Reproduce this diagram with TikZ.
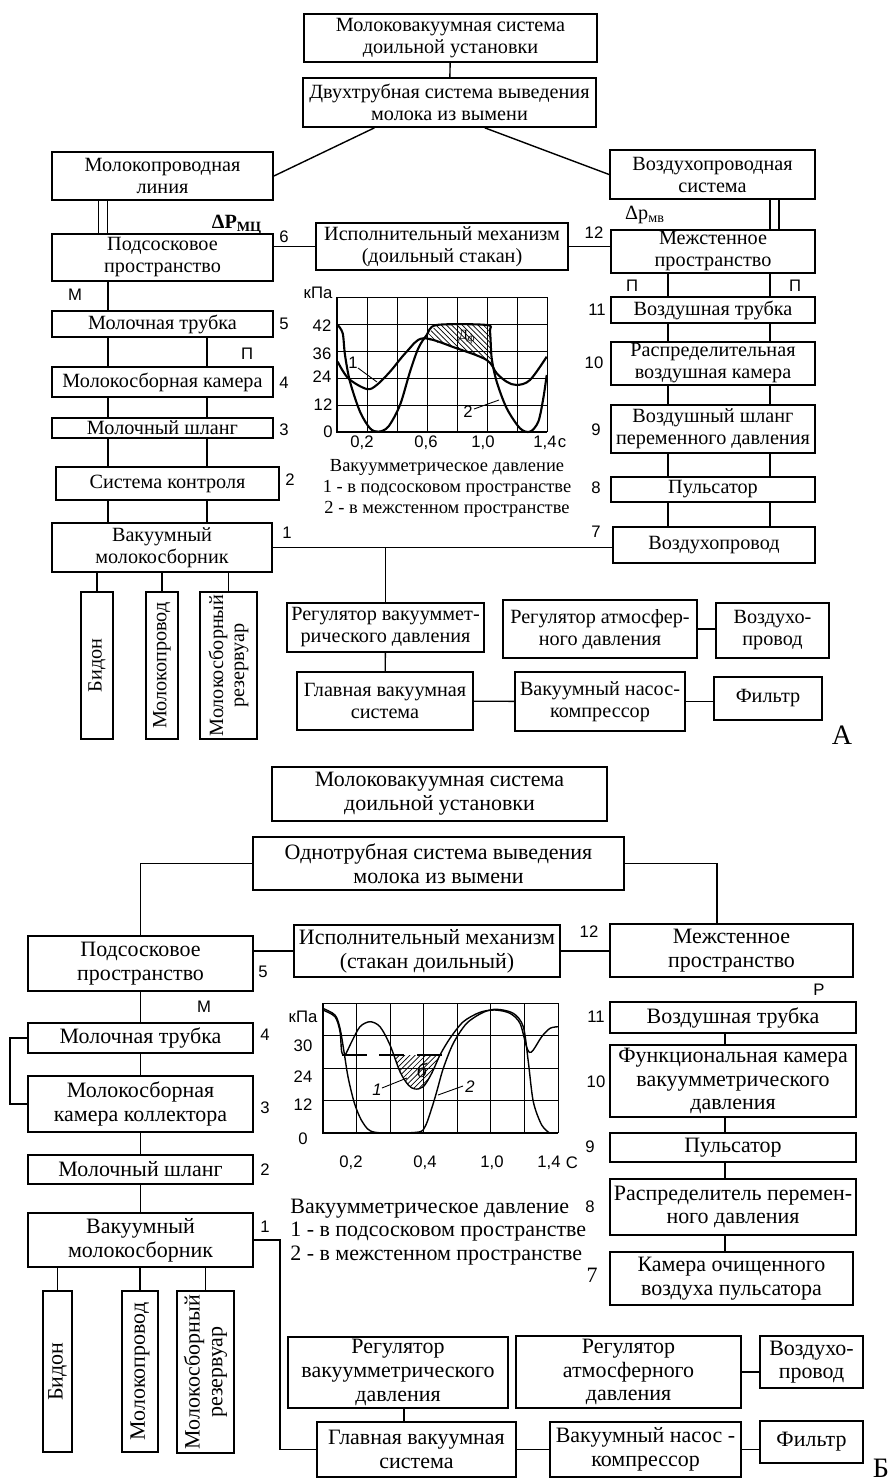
\documentclass[tikz,border=0pt]{standalone}
\usepackage{fontspec}
\setmainfont{Liberation Serif}
\setsansfont{Liberation Sans}
\usetikzlibrary{calc,patterns}

\newcommand{\boxfont}{\fontsize{11.5}{12.5}\selectfont}
\newcommand{\boxfontB}{\fontsize{12.5}{13.5}\selectfont}
\newcommand{\capfont}{\fontsize{10.5}{12}\selectfont}
\newcommand{\labfont}{\sffamily\fontsize{9.5}{10}\selectfont}

\tikzset{
  blk/.style={draw, line width=1pt, align=center, inner sep=1pt, font=\boxfont},
  blkB/.style={blk, font=\boxfontB},
  sz/.style n args={2}{minimum width=#1*0.02cm, minimum height=#2*0.02cm},
  vblk/.style={blk, rotate=90, font=\fontsize{11.5}{12}\selectfont},
  vblkB/.style={blk, rotate=90, font=\fontsize{12.5}{13}\selectfont},
  num/.style={inner sep=0pt, font=\labfont},
  ln/.style={line width=0.8pt},
  dbl/.style={line width=0.9pt, double, double distance=0.15cm},
  grd/.style={line width=0.5pt},
  axs/.style={line width=1.2pt},
  crv/.style={line width=1.2pt},
}

\begin{document}
\begin{tikzpicture}[x=0.02cm, y=-0.02cm]
	\useasboundingbox (0,0) rectangle (892,1481);

	% ---------- A ----------
	\node[blk, sz={293}{48}] (topA) at (450.5,38) {Молоковакуумная система\\доильной установки};
	\node[blk, sz={293}{49}] (dvuhA) at (449.5,102.5) {Двухтрубная система выведения\\молока из вымени};
	\node[blk, sz={221}{48}] (mlinA) at (162.5,176) {Молокопроводная\\линия};
	\node[blk, sz={205}{49}] (vsysA) at (712.5,174.5) {Воздухопроводная\\система};
	\node[blk, sz={221}{47}] (podsA) at (162.5,257.5) {Подсосковое\\пространство};
	\node[blk, sz={252}{47}] (ispA) at (442,246.5) {Исполнительный механизм\\(доильный стакан)};
	\node[blk, sz={204}{41}] (mezhA) at (713,251.5) {Межстенное\\пространство};
	\node[blk, sz={221}{26}] (mtrA) at (162.5,324) {Молочная трубка};
	\node[blk, sz={221}{30}] (mkamA) at (162.5,382) {Молокосборная камера};
	\node[blk, sz={221}{20}] (mshlA) at (162.5,428) {Молочный шланг};
	\node[blk, sz={223}{33}] (syskA) at (167.5,483.5) {Система контроля};
	\node[blk, sz={220}{49}] (vmolA) at (162,547.5) {Вакуумный\\молокосборник};
	\node[blk, sz={204}{26}] (vtrA) at (713,310) {Воздушная трубка};
	\node[blk, sz={204}{43}] (rvkA) at (713,363.5) {Распределительная\\воздушная камера};
	\node[blk, sz={204}{48}] (vshlA) at (713,429) {Воздушный шланг\\переменного давления};
	\node[blk, sz={204}{25}] (pulsA) at (713,489.5) {Пульсатор};
	\node[blk, sz={202}{36}] (vprA) at (714,545) {Воздухопровод};
	\node[blk, sz={197}{49}] (regvA) at (385.5,627.5) {Регулятор вакууммет-\\рического давления};
	\node[blk, sz={194}{58}] (regaA) at (600,629) {Регулятор атмосфер-\\ного давления};
	\node[blk, sz={113}{55}] (vpr2A) at (772.5,630.5) {Воздухо-\\провод};
	\node[blk, sz={176}{58}] (glavA) at (385,701) {Главная вакуумная\\система};
	\node[blk, sz={170}{59}] (nasA) at (600,701.5) {Вакуумный насос-\\компрессор};
	\node[blk, sz={108}{43}] (filA) at (768,698.5) {Фильтр};
	\node[vblk, sz={147}{32}] (bidA) at (97,665.5) {Бидон};
	\node[vblk, sz={147}{32}] (mprA) at (162,665.5) {Молокопровод};
	\node[vblk, sz={147}{57}] (mrezA) at (228.5,665.5) {Молокосборный\\резервуар};

	\coordinate (xa) at (108,0);
	\coordinate (xb) at (207,0);
	\coordinate (xc) at (668,0);
	\coordinate (xd) at (770,0);
	\coordinate (xl) at (103,0);
	\coordinate (xr) at (774.5,0);

	\draw[ln] (topA) -- (dvuhA);
	\draw[ln] ($(dvuhA.south west)!0.245!(dvuhA.south east)$) -- (mlinA.east);
	\draw[ln] ($(dvuhA.south west)!0.62!(dvuhA.south east)$) -- (vsysA.west);
	\draw[dbl] (xl |- mlinA.south) -- (xl |- podsA.north);
	\draw[dbl] (xr |- vsysA.south) -- (xr |- mezhA.north);
	\draw[ln] (ispA.west -| podsA.east) -- (ispA.west);
	\draw[ln] (ispA.east) -- (ispA.east -| mezhA.west);
	\draw[ln] (xa |- podsA.south) -- (xa |- mtrA.north);
	\draw[ln] (xa |- mtrA.south) -- (xa |- mkamA.north);
	\draw[ln] (xb |- mtrA.south) -- (xb |- mkamA.north);
	\draw[ln] (xa |- mkamA.south) -- (xa |- mshlA.north);
	\draw[ln] (xb |- mkamA.south) -- (xb |- mshlA.north);
	\draw[ln] (xa |- mshlA.south) -- (xa |- syskA.north);
	\draw[ln] (xb |- mshlA.south) -- (xb |- syskA.north);
	\draw[ln] (xa |- syskA.south) -- (xa |- vmolA.north);
	\draw[ln] (xb |- syskA.south) -- (xb |- vmolA.north);
	\draw[ln] (xc |- mezhA.south) -- (xc |- vtrA.north);
	\draw[ln] (xd |- mezhA.south) -- (xd |- vtrA.north);
	\draw[ln] (xc |- vtrA.south) -- (xc |- rvkA.north);
	\draw[ln] (xd |- vtrA.south) -- (xd |- rvkA.north);
	\draw[ln] (xc |- rvkA.south) -- (xc |- vshlA.north);
	\draw[ln] (xd |- rvkA.south) -- (xd |- vshlA.north);
	\draw[ln] (xc |- vshlA.south) -- (xc |- pulsA.north);
	\draw[ln] (xd |- vshlA.south) -- (xd |- pulsA.north);
	\draw[ln] (xc |- pulsA.south) -- (xc |- vprA.north);
	\draw[ln] (xd |- pulsA.south) -- (xd |- vprA.north);
	\draw[ln] (vmolA.east) -- (vmolA.east -| vprA.west);
	\coordinate (jA) at (vmolA.east -| regvA.north);
	\draw[ln] (jA) -- (regvA.north);
	\draw[ln] (regvA) -- (glavA);
	\draw[ln] (glavA) -- (nasA);
	\draw[ln] (nasA.east) -- (nasA.east -| filA.west);
	\draw[ln] (regaA.east) -- (regaA.east -| vpr2A.west);
	\draw[ln] (bidA.east |- vmolA.south) -- (bidA.east);
	\draw[ln] (mprA.east |- vmolA.south) -- (mprA.east);
	\draw[ln] (mrezA.east |- vmolA.south) -- (mrezA.east);

	\node[inner sep=0pt, font=\boxfont] (dpA) at (237,225) {\textbf{ΔP}\textsubscript{\textbf{МЦ}}};
	\node[inner sep=0pt, font=\boxfont] (dpB) at (645,215) {Δp\textsubscript{мв}};
	\node[num] (n6) at (284,237) {6};
	\node[num] (n12) at (594,233) {12};
	\node[num] (n5) at (284,324) {5};
	\node[num] (n4) at (284,383) {4};
	\node[num] (n3) at (284,430) {3};
	\node[num] (n2) at (290,480) {2};
	\node[num] (n1) at (287,533) {1};
	\node[num] (n7) at (596,532) {7};
	\node[num] (n8) at (596,488) {8};
	\node[num] (n9) at (596,430) {9};
	\node[num] (n10) at (594,363) {10};
	\node[num] (n11) at (597,310) {11};
	\node[num] (mA) at (75,295) {М};
	\node[num] (pA) at (247,354) {П};
	\node[num] (pB) at (632,286) {П};
	\node[num] (pC) at (795,286) {П};
	\node[inner sep=0pt, font=\fontsize{16}{16}\selectfont] (labA) at (842,735) {А};

	% chart A
	\foreach \gx in {0,...,7} \draw[grd] (337+\gx*30,297) -- (337+\gx*30,432);
	\foreach \gy in {0,...,4} \draw[grd] (337,297+\gy*27) -- (547,297+\gy*27);
	\fill[pattern=north west lines] (423.3,338.3) -- (426.7,335) -- (436.7,325) -- (486.7,325) -- (490,331.7) -- (491.7,358.3) -- (486.7,360) -- (456.7,348.3) -- cycle;
	\draw[axs] (337,297) -- (337,432) -- (547,432);
	\draw[crv] plot[smooth, tension=0.55] coordinates {(337.7,361.7) (348.3,378.3) (366.7,389) (376.7,385) (390,371.7) (406.7,351.7) (423.3,338.3) (456.7,348.3) (486.7,360) (496.7,373.3) (506.7,381.7) (516.7,385) (530,380) (546.7,356.7)};
	\draw[crv] plot[smooth, tension=0.5] coordinates {(337.7,325) (342.7,333.3) (345,355) (350,381.7) (360,411.7) (370,428.3) (378.3,431.7) (388.3,426.7) (400,405) (410,371.7) (418.3,348.3) (426.7,335) (436.7,325) (486.7,325) (490,331.7) (491.7,358.3) (496.7,381.7) (506.7,408.3) (520,428.3) (530,431.7) (538.3,421.7) (543.3,398.3) (546.7,375)};
	\node[inner sep=0pt, font=\fontsize{8}{8}\selectfont] (dfA) at (467,337) {Д\textsubscript{ф}};
	\node[num] (c1A) at (353,363) {1};
	\draw[grd] (358,368) -- (377,382);
	\node[num] (c2A) at (468,412) {2};
	\draw[grd] (474,409) -- (499,400);
	\node[num] (kpaA) at (318,293) {кПа};
	\node[num] (y42A) at (322,326) {42};
	\node[num] (y36A) at (322,354) {36};
	\node[num] (y24A) at (322,377) {24};
	\node[num] (y12A) at (323,405) {12};
	\node[num] (y0A) at (328,432) {0};
	\node[num] (x02A) at (362,443) {0,2};
	\node[num] (x06A) at (426,443) {0,6};
	\node[num] (x10A) at (483,443) {1,0};
	\node[num] (x14A) at (545,443) {1,4};
	\node[num] (xsA) at (562,443) {с};
	\node[inner sep=0pt, align=center, font=\capfont] (capA) at (447,488) {Вакуумметрическое давление\\1 - в подсосковом пространстве\\2 - в межстенном пространстве};

	% ---------- Б ----------
	\node[blkB, sz={335}{54}] (topB) at (439.5,794) {Молоковакуумная система\\доильной установки};
	\node[blkB, sz={371}{53}] (odnB) at (438.5,863.5) {Однотрубная система выведения\\молока из вымени};
	\node[blkB, sz={225}{55}] (podsB) at (140.5,963.5) {Подсосковое\\пространство};
	\node[blkB, sz={266}{52}] (ispB) at (427,951) {Исполнительный механизм\\(стакан доильный)};
	\node[blkB, sz={243}{53}] (mezhB) at (731.5,950.5) {Межстенное\\пространство};
	\node[blkB, sz={225}{30}] (mtrB) at (140.5,1038) {Молочная трубка};
	\node[blkB, sz={225}{56}] (mkamB) at (140.5,1104) {Молокосборная\\камера коллектора};
	\node[blkB, sz={225}{29}] (mshlB) at (140.5,1169.5) {Молочный шланг};
	\node[blkB, sz={225}{54}] (vmolB) at (140.5,1240) {Вакуумный\\молокосборник};
	\node[vblkB, sz={161}{29}] (bidB) at (57.5,1371.5) {Бидон};
	\node[vblkB, sz={161}{36}] (mprB) at (140,1371.5) {Молокопровод};
	\node[vblkB, sz={162}{57}] (mrezB) at (205.5,1372) {Молокосборный\\резервуар};
	\node[blkB, sz={246}{31}] (vtrB) at (733,1017.5) {Воздушная трубка};
	\node[blkB, sz={246}{72}] (fkamB) at (733,1081) {Функциональная камера\\вакуумметрического\\давления};
	\node[blkB, sz={246}{29}] (pulsB) at (733,1147.5) {Пульсатор};
	\node[blkB, sz={246}{56}] (raspB) at (733,1207) {Распределитель перемен-\\ного давления};
	\node[blkB, sz={243}{53}] (kamB) at (731.5,1278.5) {Камера очищенного\\воздуха пульсатора};
	\node[blkB, sz={220}{71}] (regvB) at (398,1372.5) {Регулятор\\вакуумметрического\\давления};
	\node[blkB, sz={225}{72}] (regaB) at (628.5,1372) {Регулятор\\атмосферного\\давления};
	\node[blkB, sz={103}{52}] (vpr2B) at (811.5,1362) {Воздухо-\\провод};
	\node[blkB, sz={199}{55}] (glavB) at (416.5,1449.5) {Главная вакуумная\\система};
	\node[blkB, sz={191}{55}] (nasB) at (645.5,1449.5) {Вакуумный насос -\\компрессор};
	\node[blkB, sz={103}{42}] (filB) at (811.5,1442) {Фильтр};

	\coordinate (xm) at (717,0);
	\coordinate (xq) at (725,0);
	\coordinate (xg) at (404,0);

	\draw[ln] (odnB.west) -| (podsB.north);
	\draw[ln] (odnB.east) -| (xm |- mezhB.north);
	\draw[ln] (ispB.west -| podsB.east) -- (ispB.west);
	\draw[ln] (ispB.east) -- (ispB.east -| mezhB.west);
	\draw[ln] (podsB) -- (mtrB);
	\draw[ln] (mtrB) -- (mkamB);
	\draw[ln] (mkamB) -- (mshlB);
	\draw[ln] (mshlB) -- (vmolB);
	\draw[ln] (mtrB.west) -- ++(-17,0) |- (mkamB.west);
	\draw[ln] (bidB.east |- vmolB.south) -- (bidB.east);
	\draw[ln] (mprB.east |- vmolB.south) -- (mprB.east);
	\draw[ln] (mrezB.east |- vmolB.south) -- (mrezB.east);
	\draw[ln] (vmolB.east) -- ++(26,0) |- (glavB.west);
	\draw[ln] (xq |- vtrB.south) -- (xq |- fkamB.north);
	\draw[ln] (xq |- fkamB.south) -- (xq |- pulsB.north);
	\draw[ln] (xq |- pulsB.south) -- (xq |- raspB.north);
	\draw[ln] (xq |- raspB.south) -- (xq |- kamB.north);
	\draw[ln] (xg |- regvB.south) -- (xg |- glavB.north);
	\draw[ln] (glavB) -- (nasB);
	\draw[ln] (nasB.east) -- (nasB.east -| filB.west);
	\draw[ln] (regaB.east) -- (regaB.east -| vpr2B.west);

	\node[num] (m5) at (263,972) {5};
	\node[num] (m12) at (589,932) {12};
	\node[num] (rB) at (819,990) {Р};
	\node[num] (mB) at (204,1007) {М};
	\node[num] (m4) at (265,1035) {4};
	\node[num] (m3) at (265,1108) {3};
	\node[num] (m2) at (265,1170) {2};
	\node[num] (m1) at (265,1227) {1};
	\node[num] (m11) at (596,1017) {11};
	\node[num] (m10) at (596,1082) {10};
	\node[num] (m9) at (590,1147) {9};
	\node[num] (m8) at (590,1207) {8};
	\node[inner sep=0pt, font=\boxfontB] (m7) at (592,1275) {7};
	\node[inner sep=0pt, font=\fontsize{16}{16}\selectfont] (labB) at (881,1468) {Б};

	% chart Б
	\foreach \gx in {0,...,7} \draw[grd] (323+\gx*33.57,1003) -- (323+\gx*33.57,1133);
	\foreach \gy in {0,...,3} \draw[grd] (323,1003+\gy*32.5) -- (558,1003+\gy*32.5);
	\fill[pattern=north east lines] (393.7,1055) -- (400,1071.7) -- (408.3,1085) -- (415,1089) -- (423.3,1086.7) -- (431.7,1073.3) -- (440,1055) -- cycle;
	\draw[ln, dash pattern=on 0.5cm off 0.25cm] (342,1055) -- (445,1055);
	\draw[axs] (323,1003) -- (323,1133) -- (558,1133);
	\draw[ln] plot[smooth, tension=0.5] coordinates {(322.7,1010) (335,1016.7) (340,1031.7) (341.7,1051.7) (345,1055) (351.7,1041.7) (360,1026.7) (370,1021.7) (380,1026.7) (390,1045) (400,1071.7) (408.3,1085) (415,1089) (423.3,1086.7) (431.7,1073.3) (440,1055) (450,1038.3) (463.3,1021.7) (480,1012.3) (495,1010) (510,1013.3) (520,1023.3) (526,1045) (529.3,1052.3) (533.3,1050) (541.7,1036.7) (550,1028.3) (558.3,1026.7)};
	\draw[ln] plot[smooth, tension=0.5] coordinates {(322.7,1008.3) (335,1015) (340,1028.3) (344,1051.7) (348.3,1078.3) (355,1105) (363.3,1123.3) (375,1132.3) (416.7,1132.3) (425,1126.7) (431.7,1108.3) (436.7,1091.7) (443.3,1068.3) (453.3,1043.3) (466.7,1023.3) (483.3,1012.3) (496.7,1009.3) (513.3,1013.3) (523.3,1026.7) (528.3,1061.7) (533.3,1101.7) (541.7,1125) (550,1133.3)};
	\node[inner sep=0pt, font=\boxfont\itshape] (sigB) at (422,1070) {б};
	\node[num, font=\labfont\itshape] (c1B) at (377,1090) {1};
	\draw[grd] (382,1088) -- (407,1078);
	\node[num, font=\labfont\itshape] (c2B) at (470,1087) {2};
	\draw[grd] (438,1095) -- (463,1086);
	\node[num] (kpaB) at (303,1017) {кПа};
	\node[num] (y30B) at (303,1046) {30};
	\node[num] (y24B) at (303,1077) {24};
	\node[num] (y12B) at (303,1105) {12};
	\node[num] (y0B) at (303,1139) {0};
	\node[num] (x02B) at (351,1163) {0,2};
	\node[num] (x04B) at (425,1163) {0,4};
	\node[num] (x10B) at (492,1163) {1,0};
	\node[num] (x14B) at (549,1163) {1,4};
	\node[num] (xsB) at (572,1163) {С};
	\node[inner sep=0pt, align=left, anchor=west, font=\boxfontB] (capB) at (290,1232) {Вакуумметрическое давление\\1 - в подсосковом пространстве\\2 - в межстенном пространстве};
\end{tikzpicture}
\end{document}
